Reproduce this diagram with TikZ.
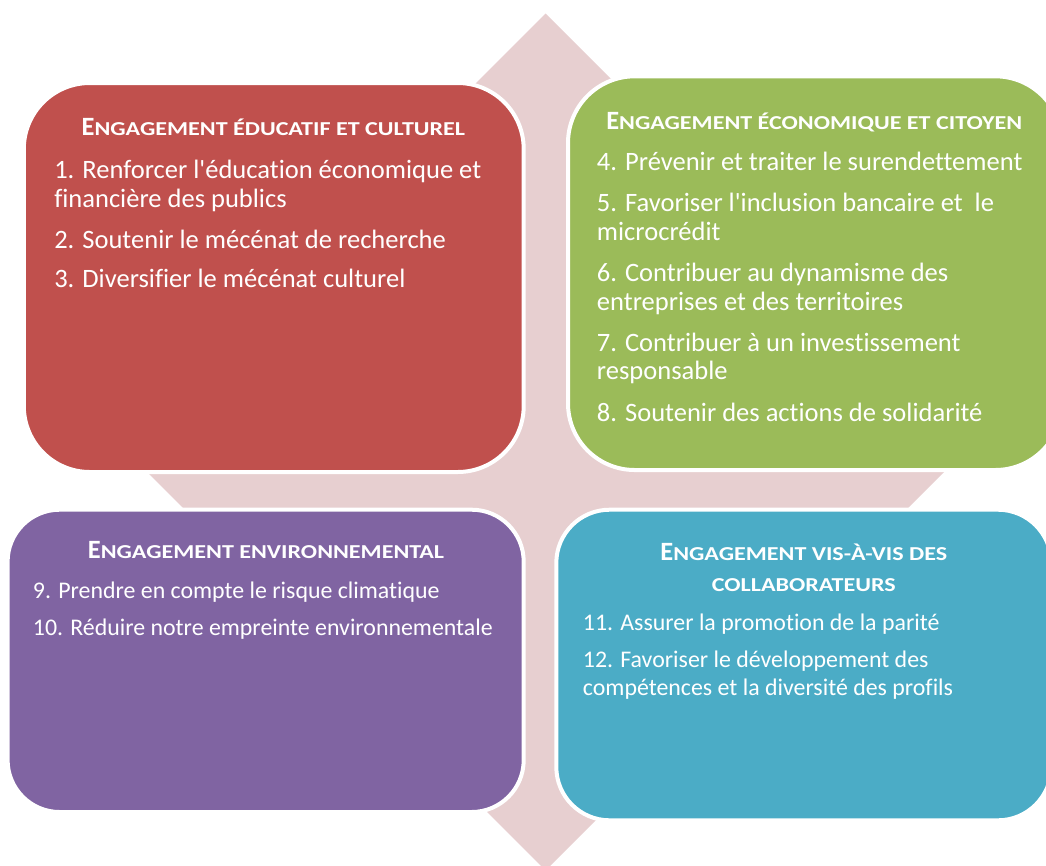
\documentclass[tikz,border=0pt]{standalone}
\usepackage{fontspec}
\newfontfamily\carl{Carlito}[Ligatures=NoCommon]
\newfontfamily\carlw{Carlito}[Ligatures=NoCommon, FakeStretch=1.22]
\newcommand\engtitle[1]{{\carl\bfseries\fontsize{19.8}{22}\selectfont E}{\carlw\bfseries\fontsize{14.8}{17}\selectfont #1}}
\newcommand\sctext[1]{{\carlw\bfseries\fontsize{14.8}{17}\selectfont #1}}
\definecolor{cred}{HTML}{C0504D}
\definecolor{cgreen}{HTML}{9BBB59}
\definecolor{cpurple}{HTML}{8064A2}
\definecolor{cblue}{HTML}{4BACC6}
\definecolor{cpink}{HTML}{E7CFD0}
\tikzset{
  quadbox/.style={draw=white, line width=3pt},
  ttl/.style={anchor=base, inner sep=0pt, text=white},
  bigtxt/.style={anchor=base west, inner sep=0pt, text=white, font=\carl\fontsize{19.9}{24}\selectfont},
  smalltxt/.style={anchor=base west, inner sep=0pt, text=white, font=\carl\fontsize{17.9}{22}\selectfont}
}
\begin{document}
\begin{tikzpicture}[x=0.75pt,y=-0.75pt]
\useasboundingbox (0,0) rectangle (1046,865);
\clip (0,0) rectangle (1046,865);
% background four-way arrow
\fill[cpink] (545.7,13.5) -- (715.7,183.5) -- (635.7,183.5) -- (635.7,352) -- (804.2,352) -- (804.2,272) -- (974.2,442) -- (804.2,612) -- (804.2,532) -- (635.7,532) -- (635.7,700.5) -- (715.7,700.5) -- (545.7,870.5) -- (375.7,700.5) -- (455.7,700.5) -- (455.7,532) -- (287.2,532) -- (287.2,612) -- (117.2,442) -- (287.2,272) -- (287.2,352) -- (455.7,352) -- (455.7,183.5) -- (375.7,183.5) -- cycle;
% boxes
\draw[quadbox, fill=cred, rounded corners=49.5pt] (23.8,83) rectangle (523.7,472);
\draw[quadbox, fill=cgreen, rounded corners=50pt] (568,76.3) rectangle (1062,470);
\draw[quadbox, fill=cpurple, rounded corners=39pt] (7.6,509.7) rectangle (523.7,812);
\draw[quadbox, fill=cblue, rounded corners=40pt] (556.3,509.7) rectangle (1051.3,820.3);
% red
\node[ttl] (rt) at (273.4,135.5) {\engtitle{NGAGEMENT ÉDUCATIF ET CULTUREL}};
\node[bigtxt] (r1a) at (54,178.3) {1. Renforcer l'éducation économique et};
\node[bigtxt] (r1b) at (54,207.3) {financière des publics};
\node[bigtxt] (r2) at (54,248.3) {2. Soutenir le mécénat de recherche};
\node[bigtxt] (r3) at (54,287.5) {3. Diversifier le mécénat culturel};
% green
\node[ttl] (gt) at (814.2,129.5) {\engtitle{NGAGEMENT ÉCONOMIQUE ET CITOYEN}};
\node[bigtxt] (g4) at (596.7,170.5) {4. Prévenir et traiter le surendettement};
\node[bigtxt] (g5a) at (596.7,211.2) {5. Favoriser l'inclusion bancaire et \ le};
\node[bigtxt] (g5b) at (596.7,240) {microcrédit};
\node[bigtxt] (g6a) at (596.7,281.5) {6. Contribuer au dynamisme des};
\node[bigtxt] (g6b) at (596.7,310) {entreprises et des territoires};
\node[bigtxt] (g7a) at (596.7,351.5) {7. Contribuer à un investissement};
\node[bigtxt] (g7b) at (596.7,379.5) {responsable};
\node[bigtxt] (g8) at (596.7,421.5) {8. Soutenir des actions de solidarité};
% purple
\node[ttl] (pt) at (266,558.3) {\engtitle{NGAGEMENT ENVIRONNEMENTAL}};
\node[smalltxt] (p9) at (32.7,598.3) {9. Prendre en compte le risque climatique};
\node[smalltxt] (p10) at (32.7,635) {10. Réduire notre empreinte environnementale};
% blue
\node[ttl] (bt1) at (803.8,560) {\engtitle{NGAGEMENT VIS-À-VIS DES}};
\node[ttl] (bt2) at (803.8,591.7) {\sctext{COLLABORATEURS}};
\node[smalltxt] (b11) at (582.7,630.7) {11. Assurer la promotion de la parité};
\node[smalltxt] (b12a) at (582.7,667.3) {12. Favoriser le développement des};
\node[smalltxt] (b12b) at (582.7,695) {compétences et la diversité des profils};
\end{tikzpicture}
\end{document}
